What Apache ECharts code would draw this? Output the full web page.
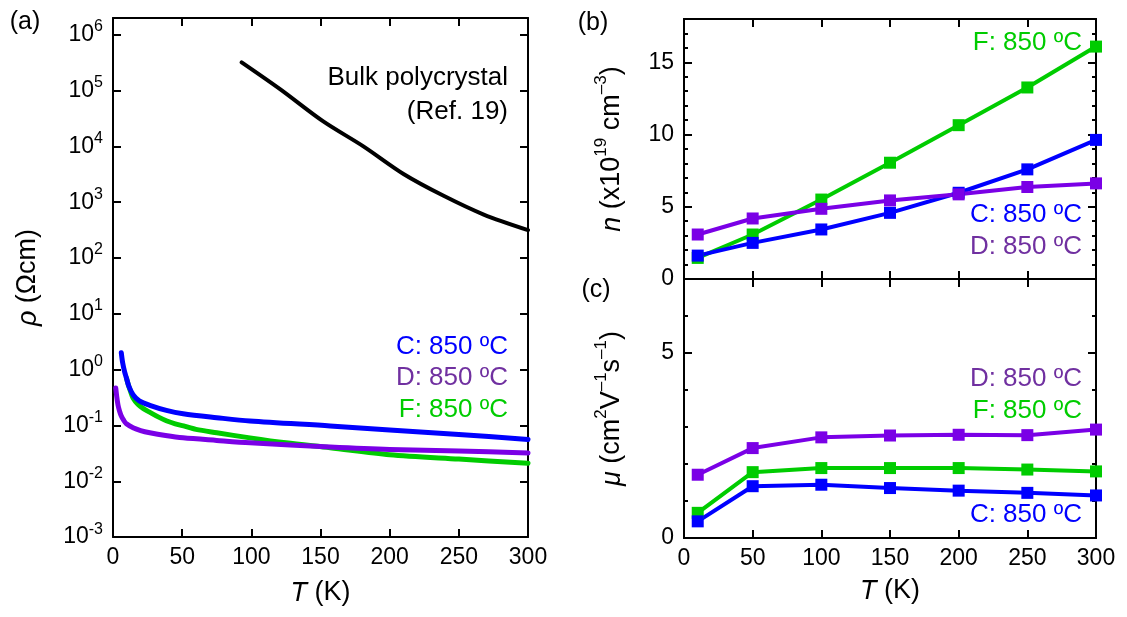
<!DOCTYPE html>
<html>
<head>
<meta charset="utf-8">
<script src="https://cdn.jsdelivr.net/npm/echarts@6/dist/echarts.min.js"></script>
<style>html,body{margin:0;padding:0;background:#fff}#c{width:1127px;height:617px}</style>
</head>
<body>
<div id="c"></div>
<script>
// ---- Panel (a): resistivity rho (Ohm cm) vs T (K) ----
const tC = [6, 7, 8.5, 9.7, 11.5, 14.5, 19, 26.6, 38.6, 50.7, 75, 99, 157, 200, 250, 300];
const rhoC = [2.0, 1.32, 0.89, 0.71, 0.50, 0.355, 0.275, 0.229, 0.186, 0.162, 0.138, 0.120, 0.098, 0.083, 0.069, 0.056];
const tF = [9.7, 11, 12.5, 14.5, 18, 22, 27, 33, 39, 45, 51, 60, 75, 99, 125, 157, 200, 250, 300];
const rhoF = [0.71, 0.54, 0.42, 0.31, 0.24, 0.20, 0.17, 0.141, 0.120, 0.107, 0.098, 0.085, 0.074, 0.060, 0.049, 0.040, 0.030, 0.025, 0.021];
const tD = [2, 2.7, 3.6, 4.7, 6, 7.8, 9.7, 14.5, 20, 26.6, 38, 50.7, 75, 99, 157, 200, 250, 300];
const rhoD = [0.47, 0.33, 0.234, 0.182, 0.148, 0.123, 0.107, 0.091, 0.081, 0.074, 0.066, 0.060, 0.054, 0.049, 0.041, 0.037, 0.035, 0.032];
const tBulk = [93, 121, 152, 181, 210, 239, 268, 300];
const rhoBulk = [3.2e5, 1.05e5, 2.8e4, 1.0e4, 3.2e3, 1.3e3, 600, 316];
const rhoExpTicks = [-3, -2, -1, 0, 1, 2, 3, 4, 5, 6];

// ---- Panels (b),(c): Hall data ----
const tHall = [10, 50, 100, 150, 200, 250, 300];
const nF = [1.46, 3.08, 5.5, 8.05, 10.65, 13.26, 16.09];
const nC = [1.62, 2.5, 3.43, 4.58, 5.97, 7.59, 9.63];
const nD = [3.08, 4.19, 4.86, 5.44, 5.86, 6.37, 6.62];
const muD = [1.71, 2.43, 2.72, 2.77, 2.79, 2.78, 2.93];
const muF = [0.68, 1.78, 1.89, 1.89, 1.89, 1.85, 1.80];
const muC = [0.45, 1.40, 1.44, 1.35, 1.28, 1.22, 1.15];

const FONT = 'Liberation Sans, Arial, sans-serif';
const BLUE = '#0000ff', GREEN = '#00cc00', PURPLE = '#7a00e6', PURPLE_TXT = '#7030a0';

const zip = (xs, ys, f) => xs.map((x, i) => [x, f ? f(ys[i]) : ys[i]]);
const lg = v => Math.log10(v);

const axLine = { show: true, onZero: false, lineStyle: { color: '#000', width: 2 } };
const baseX = (grid, pos, showLabel, extra) => Object.assign({
  type: 'value', gridIndex: grid, position: pos, min: 0, max: 300, interval: 50,
  axisLine: axLine, splitLine: { show: false },
  axisTick: { show: true, inside: true, length: 8, lineStyle: { color: '#000', width: 2 } },
  axisLabel: { show: showLabel, color: '#000', fontSize: 23, fontFamily: FONT, margin: 9 }
}, extra || {});
const tickY = (grid, pos, min, max, interval, len, showLabel, extra) => Object.assign({
  type: 'value', gridIndex: grid, position: pos, min: min, max: max, interval: interval,
  axisLine: axLine, splitLine: { show: false },
  axisTick: { show: true, inside: true, length: len, lineStyle: { color: '#000', width: 2 } },
  axisLabel: { show: showLabel, color: '#000', fontSize: 23, fontFamily: FONT, margin: 10 }
}, extra || {});

const supRich = {
  b: { fontSize: 23, fontFamily: FONT, color: '#000', lineHeight: 32 },
  s: { fontSize: 16, fontFamily: FONT, color: '#000', lineHeight: 16, verticalAlign: 'top' }
};
const nameRich = {
  i: { fontSize: 27, fontFamily: FONT, fontStyle: 'italic', color: '#000', lineHeight: 38 },
  b: { fontSize: 27, fontFamily: FONT, color: '#000', lineHeight: 38 },
  s: { fontSize: 17, fontFamily: FONT, color: '#000', lineHeight: 17, verticalAlign: 'top' }
};
const nameStyle = { fontSize: 27, fontFamily: FONT, color: '#000', lineHeight: 38, rich: nameRich };

const lineSeries = (name, xi, yi, data, color, width, extra) => Object.assign({
  type: 'line', name: name, xAxisIndex: xi, yAxisIndex: yi, data: data,
  showSymbol: false, symbol: 'none', smooth: 0.3,
  lineStyle: { color: color, width: width, cap: 'round', join: 'round' }, itemStyle: { color: color }, z: 3
}, extra || {});
const markSeries = (name, xi, yi, data, color) => ({
  type: 'line', name: name, xAxisIndex: xi, yAxisIndex: yi, data: data,
  symbol: 'rect', symbolSize: 12, showSymbol: true,
  lineStyle: { color: color, width: 4 }, itemStyle: { color: color }, z: 3
});

const txt = (text, x, y, color, size, align) => ({
  type: 'text', x: x, y: y, z: 100,
  style: { text: text, fill: color, font: (size || 24) + 'px ' + FONT,
           align: align || 'right', verticalAlign: 'middle',
           textAlign: align || 'right', textVerticalAlign: 'middle' }
});

const option = {
  animation: false,
  backgroundColor: '#fff',
  grid: [
    { left: 113, top: 18, width: 415, height: 522 },
    { left: 684, top: 19, width: 412, height: 260 },
    { left: 684, top: 279, width: 412, height: 259 }
  ],
  xAxis: [
    baseX(0, 'bottom', true, {
      name: '{i|T} (K)', nameLocation: 'middle', nameGap: 34, nameTextStyle: nameStyle
    }),
    baseX(0, 'top', false),
    baseX(1, 'bottom', false),
    baseX(1, 'top', false),
    baseX(2, 'bottom', true, {
      name: '{i|T} (K)', nameLocation: 'middle', nameGap: 34, nameTextStyle: nameStyle
    }),
    baseX(2, 'top', false)
  ],
  yAxis: [
    // panel a (exponent of rho)
    tickY(0, 'left', -3, 6.3, 1, 8, true, {
      axisLabel: {
        show: true, margin: 10,
        formatter: v => rhoExpTicks.indexOf(v) >= 0 ? '{b|10}{s|' + v + '}' : '',
        rich: supRich
      },
      name: '{i|ρ} (Ωcm)', nameLocation: 'middle', nameGap: 66, nameRotate: 90,
      nameTextStyle: nameStyle
    }),
    tickY(0, 'right', -3, 6.3, 1, 8, false),
    // panel b major / minor
    tickY(1, 'left', 0, 18, 5, 8, true, {
      axisLabel: { show: true, color: '#000', fontSize: 23, fontFamily: FONT, margin: 10,
                   formatter: v => (v % 5 === 0 ? String(v) : '') },
      name: '{i|n} (x10{s|19} cm{s|–3})', nameLocation: 'middle', nameGap: 53, nameRotate: 90,
      nameTextStyle: nameStyle
    }),
    tickY(1, 'right', 0, 18, 5, 8, false),
    tickY(1, 'left', 0, 18, 1, 4, false),
    tickY(1, 'right', 0, 18, 1, 4, false),
    // panel c major / minor
    tickY(2, 'left', 0, 7, 5, 8, true, {
      axisLabel: { show: true, color: '#000', fontSize: 23, fontFamily: FONT, margin: 10,
                   formatter: v => (v % 5 === 0 ? String(v) : '') },
      name: '{i|μ} (cm{s|2}V{s|–1}s{s|–1})', nameLocation: 'middle', nameGap: 53, nameRotate: 90,
      nameTextStyle: nameStyle
    }),
    tickY(2, 'right', 0, 7, 5, 8, false),
    tickY(2, 'left', 0, 7, 1, 4, false),
    tickY(2, 'right', 0, 7, 1, 4, false)
  ],
  series: [
    lineSeries('F', 0, 0, zip(tF, rhoF, lg), GREEN, 5),
    lineSeries('C', 0, 0, zip(tC, rhoC, lg), BLUE, 5),
    lineSeries('D', 0, 0, zip(tD, rhoD, lg), PURPLE, 5),
    lineSeries('Bulk', 0, 0, zip(tBulk, rhoBulk, lg), '#000', 4),
    markSeries('nF', 2, 2, zip(tHall, nF), GREEN),
    markSeries('nC', 2, 2, zip(tHall, nC), BLUE),
    markSeries('nD', 2, 2, zip(tHall, nD), PURPLE),
    markSeries('muF', 4, 6, zip(tHall, muF), GREEN),
    markSeries('muC', 4, 6, zip(tHall, muC), BLUE),
    markSeries('muD', 4, 6, zip(tHall, muD), PURPLE)
  ],
  graphic: [
    txt('(a)', 25, 22, '#000', 25, 'center'),
    txt('(b)', 593, 23, '#000', 25, 'center'),
    txt('(c)', 596, 290, '#000', 25, 'center'),
    txt('Bulk polycrystal', 508, 78, '#000', 26),
    txt('(Ref. 19)', 508, 112, '#000', 26),
    txt('C: 850 ºC', 508, 347, BLUE, 26),
    txt('D: 850 ºC', 508, 378, PURPLE_TXT, 26),
    txt('F: 850 ºC', 508, 410, GREEN, 26),
    txt('F: 850 ºC', 1082, 43, GREEN, 26),
    txt('C: 850 ºC', 1082, 215, BLUE, 26),
    txt('D: 850 ºC', 1082, 247, PURPLE_TXT, 26),
    txt('D: 850 ºC', 1082, 379, PURPLE_TXT, 26),
    txt('F: 850 ºC', 1082, 411, GREEN, 26),
    txt('C: 850 ºC', 1082, 515, BLUE, 26)
  ]
};

const chart = echarts.init(document.getElementById('c'), null, { renderer: 'canvas' });
chart.setOption(option);
</script>
</body>
</html>
